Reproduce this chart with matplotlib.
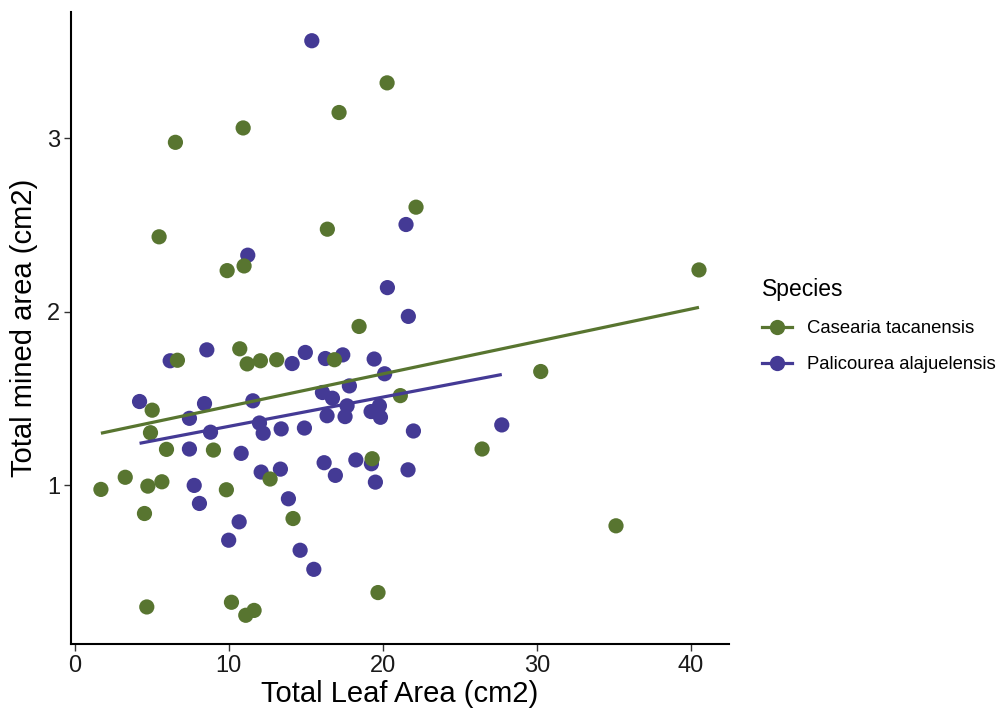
import numpy as np
import matplotlib
matplotlib.use("Agg")
import matplotlib.pyplot as plt
from matplotlib.lines import Line2D

plt.rcParams['font.family'] = ['Liberation Sans', 'DejaVu Sans']

species = ["Casearia tacanensis", "Palicourea alajuelensis"]
colors = ["#587530", "#443a95"]

cas_x = [1.69, 3.27, 4.52, 4.67, 4.74, 4.91, 5.02, 5.47, 5.65, 5.95, 6.53, 6.66, 9.0, 9.84,
         9.89, 10.17, 10.71, 10.93, 10.99, 11.1, 11.19, 11.64, 12.05, 12.68, 13.11, 14.17,
         16.4, 16.86, 17.16, 18.46, 19.31, 19.69, 20.28, 21.14, 22.16, 26.45, 30.26, 35.15, 40.54]
cas_y = [0.975, 1.045, 0.836, 0.297, 0.994, 1.302, 1.432, 2.432, 1.019, 1.206, 2.977, 1.72,
         1.202, 0.973, 2.237, 0.324, 1.786, 3.06, 2.264, 0.249, 1.699, 0.277, 1.717, 1.035,
         1.723, 0.807, 2.476, 1.723, 3.149, 1.915, 1.152, 0.38, 3.32, 1.516, 2.603, 1.208,
         1.655, 0.765, 2.241]

pal_x = [4.2, 6.19, 7.44, 7.44, 7.75, 8.09, 8.42, 8.57, 8.81, 9.99, 10.67, 10.8, 11.23, 11.56,
         11.99, 12.1, 12.23, 13.35, 13.4, 13.87, 14.11, 14.63, 14.91, 14.97, 15.39, 15.52,
         16.08, 16.19, 16.27, 16.38, 16.73, 16.92, 17.4, 17.55, 17.68, 17.83, 18.25, 19.24,
         19.26, 19.44, 19.52, 19.78, 19.85, 20.12, 20.3, 21.51, 21.64, 21.66, 21.99, 27.73]
pal_y = [1.482, 1.717, 1.385, 1.208, 0.998, 0.894, 1.47, 1.78, 1.305, 0.682, 0.788, 1.183,
         2.326, 1.486, 1.358, 1.075, 1.299, 1.092, 1.324, 0.921, 1.701, 0.624, 1.329, 1.765,
         3.563, 0.514, 1.534, 1.129, 1.73, 1.4, 1.501, 1.056, 1.751, 1.395, 1.457, 1.572,
         1.145, 1.424, 1.123, 1.727, 1.017, 1.457, 1.391, 1.642, 2.139, 2.503, 1.088, 1.973,
         1.312, 1.347]

# linear fit lines (intercept, slope) for each species
fit_intercept = [1.2674, 1.170]
fit_slope = [0.01869, 0.01687]

x_ticks = [0, 10, 20, 30, 40]
y_ticks = [1, 2, 3]

fig = plt.figure(figsize=(10.03, 7.15), dpi=100)
ax = fig.add_axes([0.0708, 0.0993, 0.7267 - 0.0708, 0.9832 - 0.0993])

for xs, ys, c in [(pal_x, pal_y, colors[1]), (cas_x, cas_y, colors[0])]:
    ax.scatter(xs, ys, s=120, color=c, edgecolors='none', zorder=2)

for xs, a, b, c in [(cas_x, fit_intercept[0], fit_slope[0], colors[0]),
                    (pal_x, fit_intercept[1], fit_slope[1], colors[1])]:
    xx = np.array([min(xs), max(xs)])
    ax.plot(xx, a + b * xx, color=c, lw=2.3, zorder=3, solid_capstyle='butt')

allx = cas_x + pal_x
ally = cas_y + pal_y
rx = max(allx) - min(allx)
ry = max(ally) - min(ally)
ax.set_xlim(min(allx) - 0.05 * rx, max(allx) + 0.05 * rx)
ax.set_ylim(min(ally) - 0.05 * ry, max(ally) + 0.05 * ry)

ax.set_xticks(x_ticks)
ax.set_yticks(y_ticks)
ax.tick_params(axis='both', labelsize=17, length=5, width=1.0, color='#333333',
               labelcolor='#1a1a1a', pad=3)
for side in ['top', 'right']:
    ax.spines[side].set_visible(False)
for side in ['left', 'bottom']:
    ax.spines[side].set_linewidth(1.5)
    ax.spines[side].set_color('black')

ax.set_xlabel("Total Leaf Area (cm2)", fontsize=21, labelpad=2)
ax.set_ylabel("Total mined area (cm2)", fontsize=21, labelpad=6)

handles = [Line2D([0], [0], color=c, lw=2.3, marker='o', markersize=11,
                  markeredgecolor='none') for c in colors]
leg = fig.legend(handles, species, title="Species", loc='upper left',
                 bbox_to_anchor=(0.7525, 0.622), frameon=False, fontsize=13.3,
                 title_fontsize=16.5, handlelength=1.6, handletextpad=0.85,
                 labelspacing=1.05, borderaxespad=0)
leg._legend_box.align = "left"

fig.savefig("out.png", dpi=100)
